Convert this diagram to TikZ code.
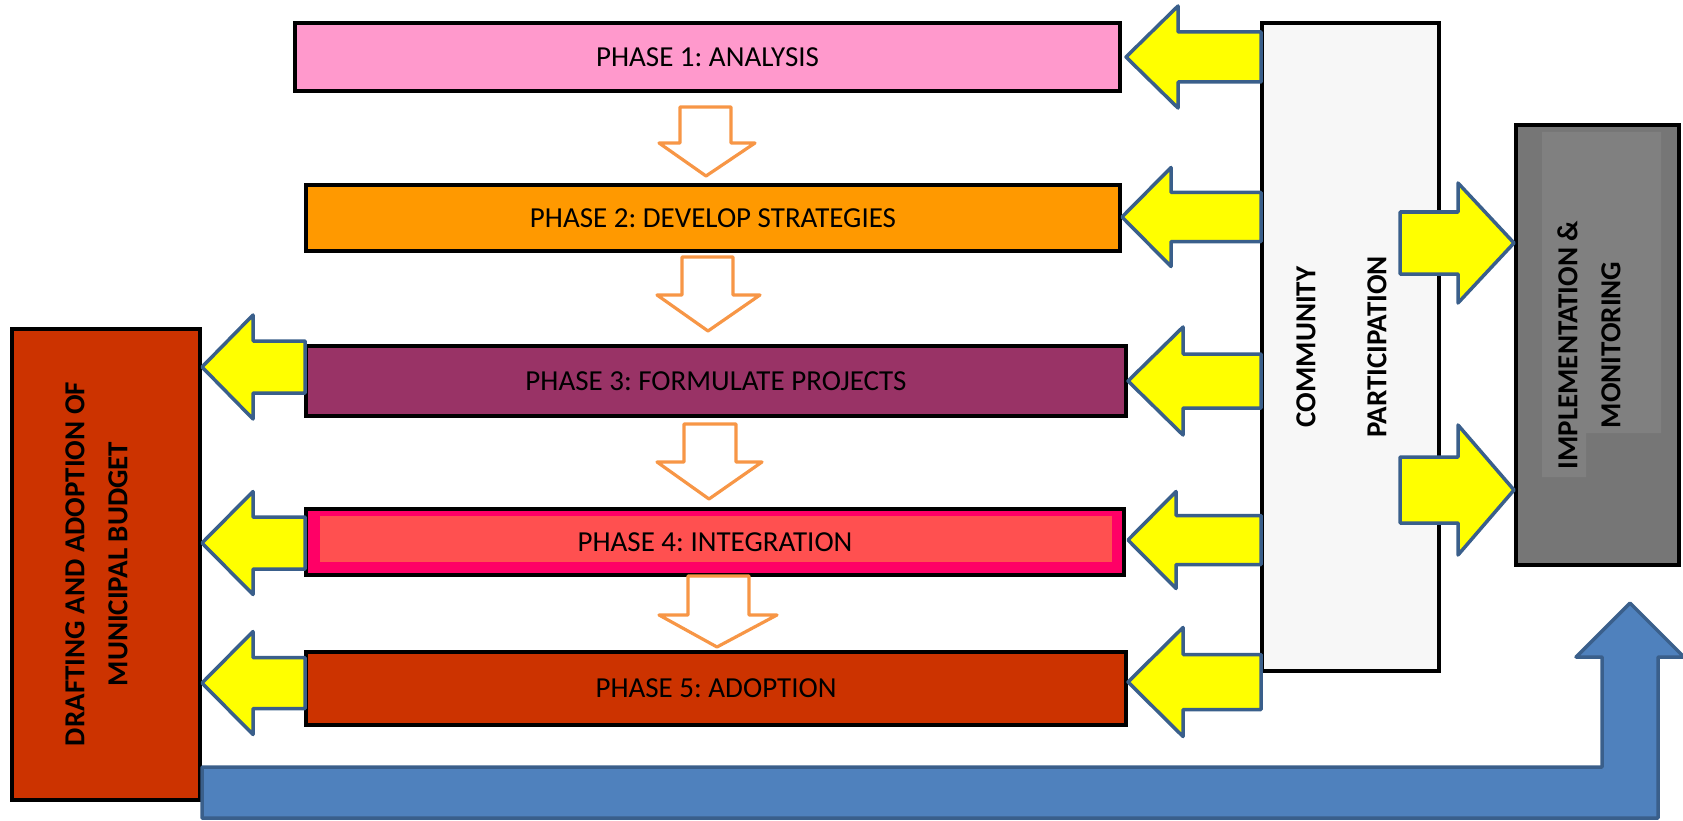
\documentclass[tikz,border=0pt]{standalone}
\usepackage{fontspec}
\setmainfont{Carlito}
\usetikzlibrary{calc}
\frenchspacing

\definecolor{phaseone}{HTML}{FF99CC}
\definecolor{phasetwo}{HTML}{FF9900}
\definecolor{phasethree}{HTML}{993366}
\definecolor{phasefourout}{HTML}{FF0066}
\definecolor{phasefourin}{HTML}{FF5050}
\definecolor{phasefive}{HTML}{CC3300}
\definecolor{commfill}{HTML}{F7F7F7}
\definecolor{implfill}{HTML}{767676}
\definecolor{impltext}{HTML}{808080}
\definecolor{arrowline}{HTML}{3A5F8B}
\definecolor{downline}{HTML}{F79646}
\definecolor{blueback}{HTML}{4F81BD}
\definecolor{yellowfill}{HTML}{FFFF00}

\tikzset{
  box/.style={draw=black, line width=4.5pt, inner sep=0pt,
    font=\fontsize{29}{35}\selectfont},
  yarrow/.style={fill=yellowfill, draw=arrowline, line width=3.5pt, line join=round},
  darrow/.style={fill=white, draw=downline, line width=3.2pt, line join=round},
  barrow/.style={fill=blueback, draw=arrowline, line width=3.5pt, line join=round},
  vtext/.style={rotate=90, align=center, inner sep=0pt,
    font=\bfseries\fontsize{29}{43}\selectfont},
  ptext/.style={inner sep=0pt, font=\fontsize{29}{35}\selectfont},
}

% block arrow: tip x, y, head back x, tail x, head half height, shaft half height
\newcommand\blockarrow[6]{%
  \filldraw[yarrow] (#1,#2) -- (#3,{#2-#5}) -- (#3,{#2-#6}) -- (#4,{#2-#6})
    -- (#4,{#2+#6}) -- (#3,{#2+#6}) -- (#3,{#2+#5}) -- cycle;}
% hollow down arrow: shaft left, shaft right, top y, head y, head left, head right, tip x, tip y
\newcommand\dnblock[8]{%
  \filldraw[darrow] (#1,#3) -- (#2,#3) -- (#2,#4) -- (#6,#4) -- (#7,#8)
    -- (#5,#4) -- (#1,#4) -- cycle;}

\begin{document}
\begin{tikzpicture}[x=1pt, y=-1pt]
\useasboundingbox (0,0) rectangle (1683,821);

% phase boxes
\node[box, fill=phaseone, minimum width=825pt, minimum height=68pt] (p1) at (707.5,57) {PHASE 1: ANALYSIS};
\node[box, fill=phasetwo, minimum width=814pt, minimum height=66pt] (p2) at (713,218) {PHASE 2: DEVELOP STRATEGIES};
\node[box, fill=phasethree, minimum width=820pt, minimum height=70pt] (p3) at (716,381) {PHASE 3: FORMULATE PROJECTS};
\node[box, fill=phasefourout, minimum width=818pt, minimum height=66pt] (p4) at (715,542) {};
\fill[phasefourin] ($(p4.north west)+(16,9)$) rectangle ($(p4.south east)+(-14,-15)$);
\node[ptext] (p4t) at (p4.center) {PHASE 4: INTEGRATION};
\node[box, fill=phasefive, minimum width=820pt, minimum height=73pt] (p5) at (716,688.5) {PHASE 5: ADOPTION};

% side boxes
\node[box, fill=commfill, minimum width=177pt, minimum height=648pt] (comm) at (1350.5,347) {};
\node[vtext, font=\bfseries\fontsize{29}{71}\selectfont] (commt) at (1341.5,347) {COMMUNITY\\PARTICIPATION};

\node[box, fill=implfill, minimum width=163pt, minimum height=440pt] (impl) at (1597.5,345) {};
\fill[impltext] (1542,132) -- (1661,132) -- (1661,433) -- (1586,433) -- (1586,477) -- (1542,477) -- cycle;
\node[vtext] (implt) at (1589,345) {IMPLEMENTATION \&\\MONITORING};

\node[box, fill=phasefive, minimum width=188pt, minimum height=471pt] (draft) at (106,564.5) {};
\node[vtext] (draftt) at (96.5,564) {DRAFTING AND ADOPTION OF\\MUNICIPAL BUDGET};

% community participation feeding each phase
\blockarrow{1126}{57}{1178}{1261}{51}{25}
\blockarrow{1122}{217}{1171}{1261}{49.5}{24.5}
\blockarrow{1128}{381}{1183}{1261}{54}{27}
\blockarrow{1128}{540}{1176}{1261}{48.5}{24.5}
\blockarrow{1128}{682}{1183}{1261}{54.5}{27.5}

% phases 3-5 feeding the budget
\blockarrow{202}{367}{253}{305}{52}{26}
\blockarrow{202}{543}{253}{305}{51.5}{26}
\blockarrow{202}{683}{253}{305}{51.5}{25.5}

% participation towards implementation
\blockarrow{1514}{243}{1458}{1400}{60}{31}
\blockarrow{1514}{490}{1458}{1400}{65}{33}

% sequence between phases
\dnblock{680}{731}{107}{143}{659}{755}{706}{176}
\dnblock{682}{733}{257}{295}{657}{760}{708}{331}
\dnblock{684}{736}{424}{462}{657}{762}{709}{499}
\dnblock{688}{749}{576}{615}{659}{777}{717}{647}

% budget towards implementation
\filldraw[barrow] (202,767) -- (1602,767) -- (1602,657) -- (1576,657) -- (1630,603)
  -- (1684,657) -- (1658,657) -- (1658,818) -- (202,818) -- cycle;
\end{tikzpicture}
\end{document}
